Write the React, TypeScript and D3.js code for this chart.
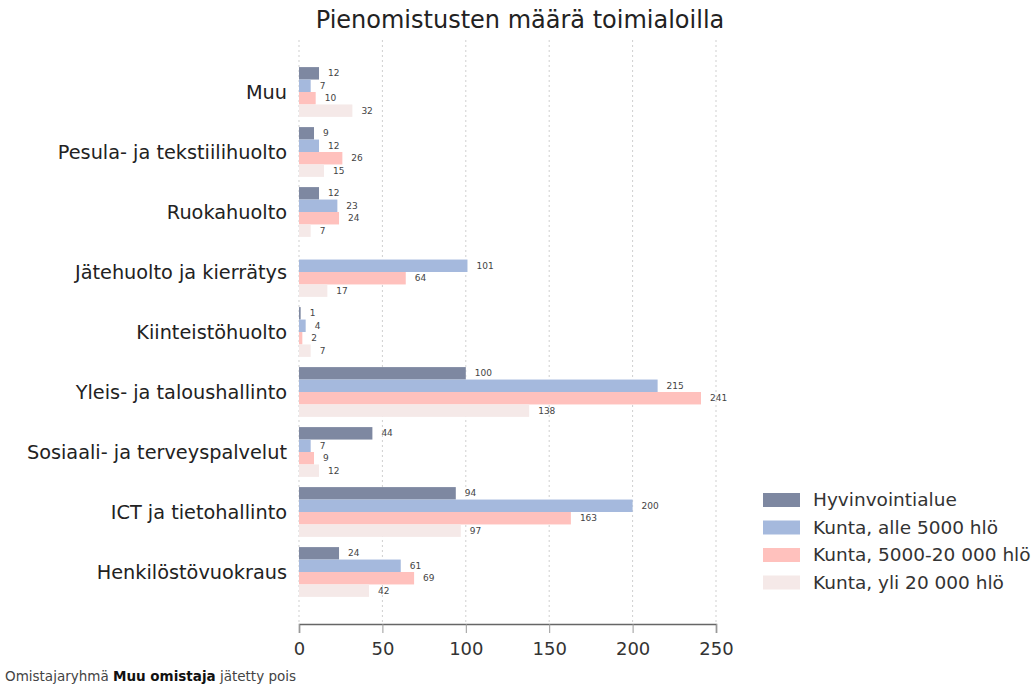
import { useEffect, useRef } from 'react'
import * as d3 from 'd3'

const categories = [
  'Muu',
  'Pesula- ja tekstiilihuolto',
  'Ruokahuolto',
  'Jätehuolto ja kierrätys',
  'Kiinteistöhuolto',
  'Yleis- ja taloushallinto',
  'Sosiaali- ja terveyspalvelut',
  'ICT ja tietohallinto',
  'Henkilöstövuokraus',
]

const seriesNames = [
  'Hyvinvointialue',
  'Kunta, alle 5000 hlö',
  'Kunta, 5000-20 000 hlö',
  'Kunta, yli 20 000 hlö',
]

const hyvinvointialue = [12, 9, 12, null, 1, 100, 44, 94, 24]
const kuntaAlle5000 = [7, 12, 23, 101, 4, 215, 7, 200, 61]
const kunta5000_20000 = [10, 26, 24, 64, 2, 241, 9, 163, 69]
const kuntaYli20000 = [32, 15, 7, 17, 7, 138, 12, 97, 42]

const xTicks = [0, 50, 100, 150, 200, 250]

const colors = ['#7e88a1', '#a5b9dd', '#ffc1bd', '#f5e9e8']

const font = '"DejaVu Sans", sans-serif'

export default function App() {
  const ref = useRef<SVGSVGElement>(null)

  useEffect(() => {
    const svg = d3.select(ref.current)
    svg.selectAll('*').remove()

    const series = [hyvinvointialue, kuntaAlle5000, kunta5000_20000, kuntaYli20000]

    const x = d3.scaleLinear().domain([0, 250]).range([299, 716])
    const y = d3.scaleBand().domain(categories).range([62, 602]).paddingInner(0.17).paddingOuter(0.085)
    const inner = d3.scaleBand().domain(d3.range(4).map(String)).range([0, y.bandwidth()])

    // title
    svg.append('text')
      .attr('x', 520)
      .attr('y', 28)
      .attr('text-anchor', 'middle')
      .style('font-family', font)
      .style('font-size', '24px')
      .style('fill', '#222')
      .text('Pienomistusten määrä toimialoilla')

    // grid
    svg.append('g')
      .selectAll('line')
      .data(xTicks)
      .enter()
      .append('line')
      .attr('x1', (d) => x(d))
      .attr('x2', (d) => x(d))
      .attr('y1', 40)
      .attr('y2', 624)
      .attr('stroke', '#cfcfcf')
      .attr('stroke-dasharray', '2,3')

    // bars
    const groups = svg.append('g')
      .selectAll('g')
      .data(categories)
      .enter()
      .append('g')
      .attr('transform', (d) => `translate(0,${y(d)})`)

    series.forEach((vals, si) => {
      groups.each(function (_, ci) {
        const v = vals[ci]
        if (v == null) return
        const g = d3.select(this)
        const by = inner(String(si))!
        g.append('rect')
          .attr('x', x(0))
          .attr('y', by)
          .attr('width', x(v) - x(0))
          .attr('height', inner.bandwidth())
          .attr('fill', colors[si])
        g.append('text')
          .attr('x', x(v) + 9)
          .attr('y', by + inner.bandwidth() / 2)
          .attr('dy', '0.35em')
          .style('font-family', font)
          .style('font-size', '9px')
          .style('fill', '#444')
          .text(v)
      })
    })

    // category labels
    svg.append('g')
      .selectAll('text')
      .data(categories)
      .enter()
      .append('text')
      .attr('x', 287)
      .attr('y', (d) => y(d)! + y.bandwidth() / 2)
      .attr('dy', '0.35em')
      .attr('text-anchor', 'end')
      .style('font-family', font)
      .style('font-size', '19.3px')
      .style('fill', '#222')
      .text((d) => d)

    // x axis
    const axis = svg.append('g')
      .attr('transform', 'translate(0,624)')
      .call(d3.axisBottom(x).tickValues(xTicks).tickSize(9).tickPadding(9))
    axis.select('.domain').attr('stroke', '#666').attr('stroke-width', 1.5)
    axis.selectAll('.tick line').attr('stroke', '#999')
    axis.selectAll('.tick text')
      .style('font-family', font)
      .style('font-size', '18px')
      .style('fill', '#333')

    // legend
    const legend = svg.append('g')
      .selectAll('g')
      .data(seriesNames)
      .enter()
      .append('g')
      .attr('transform', (_, i) => `translate(763,${500 + i * 27.5})`)
    legend.append('rect')
      .attr('x', 0)
      .attr('y', -7)
      .attr('width', 37)
      .attr('height', 14)
      .attr('fill', (_, i) => colors[i])
    legend.append('text')
      .attr('x', 50)
      .attr('dy', '0.35em')
      .style('font-family', font)
      .style('font-size', '18.5px')
      .style('fill', '#333')
      .text((d) => d)

    // footnote
    const note = svg.append('text')
      .attr('x', 5)
      .attr('y', 681)
      .style('font-family', font)
      .style('font-size', '13.5px')
      .style('fill', '#444')
    note.append('tspan').text('Omistajaryhmä ')
    note.append('tspan').style('font-weight', 700).style('fill', '#111').text('Muu omistaja')
    note.append('tspan').text(' jätetty pois')
  }, [])

  return (
    <svg
      ref={ref}
      width={1035}
      height={689}
      style={{ position: 'absolute', left: 0, top: 0, background: '#fff' }}
    />
  )
}
